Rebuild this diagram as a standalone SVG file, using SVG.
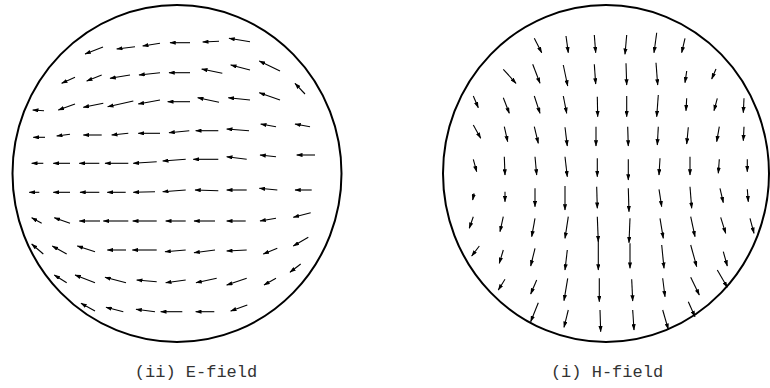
<svg xmlns="http://www.w3.org/2000/svg" width="770" height="388" viewBox="0 0 770 388">
<style>
.bd{fill:none;stroke:#000;stroke-width:2}
.a line{stroke:#000;stroke-width:1.1;marker-end:url(#ah)}
.lbl{font-family:"Liberation Mono","Courier New",monospace;font-size:17px;fill:#333;text-anchor:middle}
</style>
<defs>
<marker id="ah" viewBox="0 0 6 4" refX="5.5" refY="2" markerWidth="6.5" markerHeight="4.2" markerUnits="userSpaceOnUse" orient="auto">
<path d="M0,0 L6,2 L0,4 z" fill="#000"/>
</marker>
</defs>
<rect width="770" height="388" fill="#fff"/>
<g id="efield">
<ellipse class="bd" cx="177" cy="173.5" rx="164.5" ry="168.5"/>
<g class="a">
<line x1="103" y1="47" x2="85" y2="54"/>
<line x1="135" y1="46.7" x2="116.7" y2="49"/>
<line x1="160" y1="43.3" x2="142.7" y2="46"/>
<line x1="190" y1="42.7" x2="170" y2="42.7"/>
<line x1="219" y1="41.3" x2="202.7" y2="42"/>
<line x1="250" y1="41.7" x2="229" y2="38.3"/>
<line x1="75" y1="77.3" x2="61.7" y2="83.3"/>
<line x1="101.7" y1="75" x2="86.7" y2="81"/>
<line x1="130" y1="75" x2="110" y2="78.3"/>
<line x1="160" y1="72.7" x2="139" y2="75"/>
<line x1="190" y1="72.7" x2="169" y2="72.7"/>
<line x1="222.3" y1="73.3" x2="201.7" y2="69"/>
<line x1="250" y1="70" x2="230.7" y2="65"/>
<line x1="280" y1="71" x2="259.3" y2="61"/>
<line x1="305" y1="94" x2="295" y2="83.3"/>
<line x1="44" y1="110.7" x2="32.7" y2="110"/>
<line x1="75" y1="104" x2="58.3" y2="110"/>
<line x1="103.3" y1="103.3" x2="83.3" y2="107.3"/>
<line x1="133.3" y1="101" x2="107.7" y2="106.7"/>
<line x1="160" y1="100" x2="138.3" y2="104"/>
<line x1="190" y1="101.7" x2="167.7" y2="101.7"/>
<line x1="219" y1="102.3" x2="197.7" y2="97.7"/>
<line x1="250" y1="100" x2="228.3" y2="97.7"/>
<line x1="280" y1="100" x2="259.3" y2="92.7"/>
<line x1="45" y1="137.3" x2="33.3" y2="137.3"/>
<line x1="70" y1="134.3" x2="56.7" y2="136"/>
<line x1="101.7" y1="135" x2="83.3" y2="135"/>
<line x1="128.3" y1="133.3" x2="111.7" y2="135"/>
<line x1="160" y1="133.3" x2="138.3" y2="133.3"/>
<line x1="189.3" y1="130.7" x2="169" y2="132.7"/>
<line x1="218.3" y1="130.7" x2="195.7" y2="130.7"/>
<line x1="249" y1="130.7" x2="226.7" y2="129"/>
<line x1="276" y1="126.7" x2="260.7" y2="124"/>
<line x1="310" y1="126.7" x2="295" y2="124"/>
<line x1="43.3" y1="163.3" x2="31.7" y2="163.3"/>
<line x1="70" y1="163.3" x2="53.3" y2="163.3"/>
<line x1="99.3" y1="163.3" x2="79.3" y2="163.3"/>
<line x1="128.3" y1="163.3" x2="105" y2="163.3"/>
<line x1="156.7" y1="161.7" x2="133.3" y2="163.3"/>
<line x1="185.7" y1="159.3" x2="162.7" y2="161"/>
<line x1="218.3" y1="159.3" x2="193.3" y2="159.3"/>
<line x1="246.7" y1="159.3" x2="226.7" y2="156.7"/>
<line x1="276" y1="156.7" x2="260" y2="155"/>
<line x1="315" y1="155" x2="296.7" y2="155"/>
<line x1="39.3" y1="192.3" x2="29.3" y2="192.3"/>
<line x1="70" y1="192.3" x2="53.3" y2="192.3"/>
<line x1="99.3" y1="192.3" x2="80" y2="192.3"/>
<line x1="125.7" y1="192.3" x2="107.3" y2="192.3"/>
<line x1="155" y1="191.7" x2="133.3" y2="192.3"/>
<line x1="185.7" y1="190" x2="162.7" y2="191.7"/>
<line x1="218.3" y1="190.7" x2="195" y2="190"/>
<line x1="246.7" y1="190" x2="226.7" y2="190"/>
<line x1="277.3" y1="190" x2="259.3" y2="188.3"/>
<line x1="311.7" y1="190" x2="295" y2="190"/>
<line x1="41.7" y1="223.3" x2="31.7" y2="217.7"/>
<line x1="70" y1="223.3" x2="54.3" y2="217.7"/>
<line x1="100" y1="221" x2="79.3" y2="221"/>
<line x1="128.3" y1="221" x2="103.3" y2="221"/>
<line x1="156.7" y1="221" x2="132.7" y2="221"/>
<line x1="185.7" y1="221" x2="165.7" y2="221"/>
<line x1="215" y1="221" x2="194" y2="221"/>
<line x1="245.7" y1="221" x2="226.7" y2="221"/>
<line x1="276" y1="218.3" x2="260" y2="221"/>
<line x1="310.7" y1="212.7" x2="293.3" y2="217.3"/>
<line x1="43.3" y1="254" x2="31.7" y2="244"/>
<line x1="66.7" y1="254" x2="52.3" y2="246"/>
<line x1="95" y1="251.7" x2="77.3" y2="246"/>
<line x1="126" y1="250" x2="107.3" y2="250"/>
<line x1="156.7" y1="250" x2="132.3" y2="250"/>
<line x1="185.7" y1="250" x2="165" y2="251.7"/>
<line x1="215" y1="250" x2="194" y2="252.7"/>
<line x1="246.7" y1="250" x2="226.7" y2="251"/>
<line x1="277.3" y1="248.3" x2="263.3" y2="254"/>
<line x1="308.3" y1="237.3" x2="293.3" y2="246"/>
<line x1="66.7" y1="282.7" x2="54.3" y2="275"/>
<line x1="95" y1="282.7" x2="75" y2="275"/>
<line x1="126" y1="282.7" x2="105" y2="277.3"/>
<line x1="156.7" y1="281.7" x2="136.7" y2="280"/>
<line x1="185.7" y1="280" x2="165.7" y2="282.7"/>
<line x1="216.7" y1="278.3" x2="196" y2="282.7"/>
<line x1="246.7" y1="278.3" x2="226.7" y2="285"/>
<line x1="276" y1="278.3" x2="264" y2="285"/>
<line x1="300.7" y1="264" x2="290" y2="272.3"/>
<line x1="95" y1="311" x2="81" y2="303.3"/>
<line x1="123.3" y1="311.7" x2="106" y2="307.3"/>
<line x1="155" y1="311.7" x2="136" y2="309.3"/>
<line x1="182.3" y1="311.7" x2="160.7" y2="311.7"/>
<line x1="214.3" y1="311.7" x2="195.7" y2="311.7"/>
<line x1="247.3" y1="305" x2="230.7" y2="311"/>
</g>
<text class="lbl" x="196" y="377">(ii) E-field</text>
</g>
<g id="hfield">
<ellipse class="bd" cx="606" cy="173.5" rx="163" ry="168.5"/>
<g class="a">
<line x1="534.3" y1="38.3" x2="541.7" y2="52.7"/>
<line x1="566" y1="36" x2="568.3" y2="52.7"/>
<line x1="594.3" y1="35" x2="595.7" y2="52.7"/>
<line x1="626.7" y1="35" x2="625" y2="54.3"/>
<line x1="656.7" y1="32.7" x2="654" y2="52.7"/>
<line x1="685" y1="38.3" x2="681.7" y2="52.7"/>
<line x1="503.3" y1="69.3" x2="516" y2="83.3"/>
<line x1="532.7" y1="64.3" x2="540" y2="83.3"/>
<line x1="563.3" y1="65" x2="567.7" y2="86"/>
<line x1="594.3" y1="64.3" x2="595.7" y2="84"/>
<line x1="626" y1="63.3" x2="626.7" y2="85"/>
<line x1="656" y1="62.7" x2="657.7" y2="85"/>
<line x1="686.7" y1="71" x2="685" y2="82.7"/>
<line x1="716" y1="69" x2="711.7" y2="79"/>
<line x1="473.3" y1="96" x2="478.3" y2="107.7"/>
<line x1="503.3" y1="97.7" x2="509.3" y2="113.3"/>
<line x1="534.3" y1="96" x2="540" y2="113.3"/>
<line x1="563.3" y1="96" x2="566.7" y2="113.3"/>
<line x1="597.3" y1="96.7" x2="597.7" y2="116.7"/>
<line x1="626.7" y1="96" x2="626.7" y2="116.7"/>
<line x1="658.3" y1="95" x2="656.7" y2="116.7"/>
<line x1="686.7" y1="98.3" x2="686" y2="110.7"/>
<line x1="717.3" y1="98.3" x2="714" y2="110.7"/>
<line x1="744" y1="98.3" x2="743.3" y2="112.7"/>
<line x1="473.3" y1="125" x2="480.7" y2="138.3"/>
<line x1="504.3" y1="126.7" x2="507.7" y2="141.7"/>
<line x1="534.3" y1="126.7" x2="538.3" y2="143.3"/>
<line x1="565" y1="127.3" x2="567.3" y2="146"/>
<line x1="596" y1="126.7" x2="596" y2="146"/>
<line x1="627.7" y1="126.7" x2="628.3" y2="146"/>
<line x1="658.3" y1="126.7" x2="657.3" y2="145"/>
<line x1="688.3" y1="127.3" x2="686.7" y2="144"/>
<line x1="719.3" y1="126.7" x2="716.7" y2="141.7"/>
<line x1="744" y1="126.7" x2="743.3" y2="140.7"/>
<line x1="473.3" y1="159.3" x2="476.7" y2="171.7"/>
<line x1="504.3" y1="156.7" x2="505" y2="175"/>
<line x1="535" y1="156.7" x2="536.7" y2="175"/>
<line x1="565" y1="156.7" x2="567.3" y2="176.7"/>
<line x1="597.3" y1="158.3" x2="597.3" y2="176.7"/>
<line x1="628.3" y1="159.3" x2="628.3" y2="180"/>
<line x1="660" y1="158.3" x2="659" y2="175"/>
<line x1="690" y1="156.7" x2="690" y2="175"/>
<line x1="719.3" y1="159.3" x2="718.3" y2="173.3"/>
<line x1="747.3" y1="159.3" x2="747.3" y2="171.7"/>
<line x1="474" y1="193.3" x2="472.7" y2="200"/>
<line x1="505" y1="191.7" x2="505" y2="201.7"/>
<line x1="535" y1="188.3" x2="535" y2="206.7"/>
<line x1="565" y1="186" x2="565" y2="210"/>
<line x1="596.7" y1="186.7" x2="597.3" y2="208.3"/>
<line x1="628.3" y1="188.3" x2="629" y2="211.7"/>
<line x1="659" y1="189.3" x2="661.7" y2="206.7"/>
<line x1="690" y1="186.7" x2="691.7" y2="208.3"/>
<line x1="720" y1="188.3" x2="723.3" y2="202.7"/>
<line x1="747.3" y1="189.3" x2="748.3" y2="201.7"/>
<line x1="473.3" y1="216.7" x2="469.3" y2="228.3"/>
<line x1="503.3" y1="216.7" x2="500" y2="231.7"/>
<line x1="535" y1="218.3" x2="531.7" y2="236.7"/>
<line x1="568.3" y1="216.7" x2="565" y2="238.3"/>
<line x1="597.3" y1="216.7" x2="598.3" y2="241.7"/>
<line x1="630" y1="218.3" x2="629" y2="242.7"/>
<line x1="660" y1="218.3" x2="663.3" y2="238.3"/>
<line x1="690.7" y1="216.7" x2="695" y2="236.7"/>
<line x1="720.7" y1="217.3" x2="725.7" y2="233.3"/>
<line x1="750" y1="218.3" x2="754" y2="233.3"/>
<line x1="479.3" y1="246" x2="471.7" y2="256"/>
<line x1="503.3" y1="250" x2="499.3" y2="263.3"/>
<line x1="535" y1="248.3" x2="530.7" y2="266"/>
<line x1="567.3" y1="250" x2="565" y2="270"/>
<line x1="598.3" y1="240" x2="598.3" y2="270"/>
<line x1="630" y1="243.3" x2="630" y2="268.3"/>
<line x1="661.7" y1="245" x2="664" y2="268.3"/>
<line x1="690.7" y1="245" x2="696.7" y2="266.7"/>
<line x1="723.3" y1="251.7" x2="727.3" y2="266"/>
<line x1="505" y1="279.3" x2="498.3" y2="290"/>
<line x1="536.7" y1="280" x2="530.7" y2="294"/>
<line x1="567.7" y1="278.3" x2="564" y2="300.7"/>
<line x1="599.3" y1="278.3" x2="599.3" y2="301.7"/>
<line x1="631.7" y1="279.3" x2="632.7" y2="301"/>
<line x1="662.7" y1="278.3" x2="665" y2="296.7"/>
<line x1="690.7" y1="277.3" x2="699.3" y2="295"/>
<line x1="717.3" y1="270" x2="727.3" y2="287.3"/>
<line x1="538.3" y1="302.7" x2="530.7" y2="321.7"/>
<line x1="568.3" y1="310" x2="564" y2="327.3"/>
<line x1="600" y1="310" x2="600.7" y2="331.7"/>
<line x1="632.7" y1="310" x2="634" y2="330"/>
<line x1="662.7" y1="310" x2="668.3" y2="329.3"/>
<line x1="688.3" y1="301.7" x2="695" y2="316.7"/>
</g>
<text class="lbl" x="607" y="377">(i) H-field</text>
</g>
</svg>
